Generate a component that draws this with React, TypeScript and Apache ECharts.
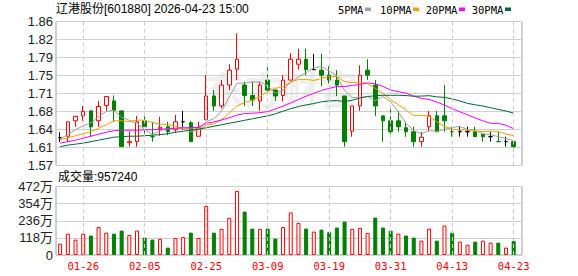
import React, { useEffect, useRef } from 'react';
import * as echarts from 'echarts';

const title = '辽港股份[601880] 2026-04-23 15:00';
const volumeTitle = '成交量:957240';
const maNames = ['5PMA', '10PMA', '20PMA', '30PMA'];
const maColors = ['#a0a0a0', '#f2a000', '#ff00ff', '#006a35'];

const dates = [
  '01-21', '01-22', '01-23', '01-26', '01-27', '01-28', '01-29', '01-30', '02-02', '02-03',
  '02-04', '02-05', '02-06', '02-09', '02-10', '02-11', '02-12', '02-13', '02-24', '02-25',
  '02-26', '02-27', '03-02', '03-03', '03-04', '03-05', '03-06', '03-09', '03-10', '03-11',
  '03-12', '03-13', '03-16', '03-17', '03-18', '03-19', '03-20', '03-23', '03-24', '03-25',
  '03-26', '03-27', '03-30', '03-31', '04-01', '04-02', '04-03', '04-07', '04-08', '04-09',
  '04-10', '04-13', '04-14', '04-15', '04-16', '04-17', '04-20', '04-21', '04-22', '04-23',
];
const labelDates = ['01-26', '02-05', '02-25', '03-09', '03-19', '03-31', '04-13', '04-23'];

const opens = [
  1.626, 1.629, 1.660, 1.670, 1.680, 1.660, 1.691, 1.700, 1.680, 1.616,
  1.618, 1.660, 1.628, 1.644, 1.648, 1.642, 1.658, 1.656, 1.629, 1.662,
  1.710, 1.690, 1.732, 1.764, 1.732, 1.711, 1.700, 1.742, 1.722, 1.711,
  1.742, 1.774, 1.784, 1.763, 1.762, 1.752, 1.742, 1.710, 1.639, 1.690,
  1.762, 1.732, 1.670, 1.660, 1.660, 1.646, 1.638, 1.618, 1.648, 1.670,
  1.670, 1.638, 1.638, 1.638, 1.638, 1.633, 1.628, 1.618, 1.618, 1.618,
];
const closes = [
  1.626, 1.658, 1.669, 1.679, 1.648, 1.689, 1.709, 1.681, 1.608, 1.618,
  1.658, 1.648, 1.628, 1.647, 1.638, 1.658, 1.658, 1.618, 1.646, 1.710,
  1.690, 1.732, 1.762, 1.784, 1.711, 1.702, 1.732, 1.722, 1.710, 1.742,
  1.784, 1.784, 1.763, 1.763, 1.752, 1.742, 1.732, 1.618, 1.690, 1.752,
  1.752, 1.690, 1.660, 1.638, 1.648, 1.638, 1.618, 1.627, 1.670, 1.638,
  1.660, 1.638, 1.638, 1.638, 1.628, 1.628, 1.628, 1.618, 1.618, 1.608,
];
const highs = [
  1.637, 1.658, 1.670, 1.690, 1.681, 1.700, 1.710, 1.711, 1.680, 1.639,
  1.670, 1.670, 1.658, 1.668, 1.658, 1.672, 1.680, 1.660, 1.658, 1.752,
  1.722, 1.742, 1.774, 1.836, 1.739, 1.739, 1.739, 1.774, 1.722, 1.752,
  1.796, 1.805, 1.805, 1.795, 1.795, 1.770, 1.762, 1.710, 1.690, 1.772,
  1.784, 1.742, 1.670, 1.690, 1.680, 1.658, 1.648, 1.638, 1.680, 1.680,
  1.732, 1.648, 1.648, 1.648, 1.648, 1.633, 1.638, 1.638, 1.628, 1.618,
];
const lows = [
  1.617, 1.618, 1.648, 1.660, 1.628, 1.648, 1.680, 1.658, 1.608, 1.608,
  1.608, 1.629, 1.618, 1.630, 1.631, 1.636, 1.642, 1.618, 1.629, 1.662,
  1.680, 1.685, 1.722, 1.742, 1.690, 1.690, 1.680, 1.719, 1.700, 1.699,
  1.742, 1.763, 1.752, 1.763, 1.730, 1.735, 1.710, 1.608, 1.628, 1.680,
  1.742, 1.670, 1.618, 1.628, 1.638, 1.628, 1.608, 1.608, 1.639, 1.638,
  1.638, 1.628, 1.628, 1.628, 1.628, 1.618, 1.618, 1.618, 1.608, 1.598,
];
const volumes = [
  780000, 1470000, 1060000, 1470000, 1340000, 1930000, 1540000, 1470000, 1680000, 1380000,
  1680000, 1200000, 1060000, 1110000, 510000, 1170000, 1240000, 1540000, 1170000, 3380000,
  1540000, 1800000, 2560000, 4420000, 2990000, 1820000, 1800000, 1820000, 1130000, 1930000,
  2930000, 2210000, 1820000, 1610000, 1750000, 1570000, 1890000, 2300000, 1800000, 1870000,
  1520000, 2580000, 1890000, 1680000, 1470000, 1340000, 1200000, 990000, 1820000, 990000,
  2030000, 1540000, 920000, 710000, 920000, 990000, 850000, 850000, 510000, 957240,
];

const ma5Lead = [1.623, 1.633, 1.642, 1.650];
const ma10Lead = [1.622, 1.626, 1.630, 1.634, 1.638, 1.645, 1.652, 1.660, 1.660];
const ma20Lead = [
  1.615, 1.618, 1.621, 1.625, 1.629, 1.633, 1.637, 1.640, 1.641, 1.641,
  1.641, 1.642, 1.642, 1.643, 1.644, 1.645, 1.646, 1.646, 1.647,
];
const ma30Lead = [
  1.608, 1.611, 1.613, 1.615, 1.618, 1.621, 1.624, 1.627, 1.628, 1.629,
  1.629, 1.630, 1.631, 1.632, 1.634, 1.637, 1.639, 1.641, 1.643, 1.646,
  1.649, 1.652, 1.655, 1.658, 1.661, 1.664, 1.667, 1.670, 1.674,
];

const priceMin = 1.57;
const priceMax = 1.86;
const priceTicks = [1.57, 1.60625, 1.6425, 1.67875, 1.715, 1.75125, 1.7875, 1.82375, 1.86];
const priceTickLabels = ['1.57', '1.61', '1.64', '1.68', '1.71', '1.75', '1.79', '1.82', '1.86'];
const volumeTicks = [0, 1180000, 2360000, 3540000, 4720000];
const volumeTickLabels = ['0', '118万', '236万', '354万', '472万'];

const upColor = '#ff0000';
const downColor = '#008000';
const flatColor = '#000000';

function movingAverage(n: number, lead: number[]) {
  return closes.map((_, i) => {
    if (i < n - 1) return lead[i];
    let s = 0;
    for (let k = i - n + 1; k <= i; k++) s += closes[k];
    return +(s / n).toFixed(4);
  });
}

function nearestLabel(v: number, ticks: number[], labels: string[]) {
  let best = 0;
  for (let i = 1; i < ticks.length; i++) {
    if (Math.abs(ticks[i] - v) < Math.abs(ticks[best] - v)) best = i;
  }
  return labels[best];
}

export default function App() {
  const ref = useRef<HTMLDivElement>(null);

  useEffect(() => {
    if (!ref.current) return;
    const chart = echarts.init(ref.current, undefined, { renderer: 'svg' });

    const candleData = dates.map((_, i) => {
      const o = opens[i];
      const c = closes[i];
      const item: any = { value: [o, c, lows[i], highs[i]] };
      if (o === c) {
        const prev = i > 0 ? closes[i - 1] : c;
        const col = c === prev ? flatColor : c < prev ? downColor : upColor;
        item.itemStyle = { color: col, color0: col, borderColor: col, borderColor0: col, borderColorDoji: col };
      }
      return item;
    });

    const volumeData = volumes.map((v, i) => {
      const up = i === 0 || closes[i] >= closes[i - 1];
      return {
        value: v,
        itemStyle: up
          ? { color: '#ffffff', borderColor: upColor, borderWidth: 1 }
          : { color: downColor, borderColor: downColor, borderWidth: 1 },
      };
    });

    const mas = [
      movingAverage(5, ma5Lead),
      movingAverage(10, ma10Lead),
      movingAverage(20, ma20Lead),
      movingAverage(30, ma30Lead),
    ];

    const vMarkLine = {
      silent: true,
      symbol: ['none', 'none'],
      label: { show: false },
      lineStyle: { color: '#cccccc', type: [4, 3], width: 1 },
      emphasis: { disabled: true },
      data: labelDates.map((d) => ({ xAxis: d })),
    };

    const font = '"Liberation Sans", "Noto Sans CJK SC", sans-serif';
    const monoFont = '"DejaVu Sans Mono", monospace';

    const legendX = [338, 380, 425.7, 471.7];
    const legendRectX = [365, 413, 459, 505];

    const graphics: any[] = [
      {
        type: 'text',
        left: 206,
        top: 68,
        z: -10,
        silent: true,
        style: { text: '东方财富', font: 'bold 38px "Noto Sans CJK SC"', fill: '#efefef' },
      },
      {
        type: 'text',
        x: 56,
        y: 9,
        style: { text: title, font: '12px ' + font, fill: '#000', verticalAlign: 'middle', align: 'left' },
      },
      {
        type: 'text',
        x: 58,
        y: 177,
        style: { text: volumeTitle, font: '12px ' + font, fill: '#000', verticalAlign: 'middle', align: 'left' },
      },
    ];
    maNames.forEach((name, i) => {
      graphics.push({
        type: 'text',
        x: legendX[i],
        y: 9.5,
        style: { text: name, font: '10.5px ' + monoFont, fill: '#000', verticalAlign: 'middle', align: 'left' },
      });
      graphics.push({
        type: 'rect',
        shape: { x: legendRectX[i], y: 7.5, width: 6, height: 3.5 },
        style: { fill: maColors[i] },
      });
    });

    const option: any = {
      animation: false,
      backgroundColor: '#ffffff',
      textStyle: { fontFamily: font },
      graphic: graphics,
      grid: [
        { left: 56, top: 21.5, width: 466, height: 144, show: true, borderColor: '#a0a0a0', borderWidth: 1, backgroundColor: 'transparent', containLabel: false },
        { left: 56.3, top: 21.5, width: 461.2, height: 144, containLabel: false },
        { left: 56, top: 186.5, width: 466, height: 68.5, show: true, borderColor: '#a0a0a0', borderWidth: 1, backgroundColor: 'transparent', containLabel: false },
        { left: 56.3, top: 186.5, width: 461.2, height: 68.5, containLabel: false },
      ],
      xAxis: [
        { gridIndex: 0, type: 'value', show: false },
        { gridIndex: 1, type: 'category', data: dates, boundaryGap: true, show: false },
        { gridIndex: 2, type: 'value', show: false },
        {
          gridIndex: 3,
          type: 'category',
          data: dates,
          boundaryGap: true,
          axisLine: { show: false },
          axisTick: { show: false },
          splitLine: { show: false },
          axisLabel: {
            interval: (_: number, value: string) => labelDates.includes(value),
            color: upColor,
            fontSize: 10.5,
            fontFamily: monoFont,
            margin: 5,
            showMaxLabel: true,
            hideOverlap: false,
          },
        },
      ],
      yAxis: [
        {
          gridIndex: 0,
          type: 'value',
          min: priceMin,
          max: priceMax,
          axisLine: { show: false },
          axisTick: { show: false, customValues: priceTicks },
          axisLabel: {
            customValues: priceTicks,
            formatter: (v: number) => nearestLabel(v, priceTicks, priceTickLabels),
            color: '#222',
            fontSize: 13,
            margin: 3,
          },
          splitLine: { show: true, lineStyle: { color: '#d0d0d0', width: 1 } },
        },
        { gridIndex: 1, type: 'value', min: priceMin, max: priceMax, show: false, splitLine: { show: false } },
        {
          gridIndex: 2,
          type: 'value',
          min: 0,
          max: 4720000,
          interval: 1180000,
          axisLine: { show: false },
          axisTick: { show: false },
          axisLabel: {
            formatter: (v: number) => nearestLabel(v, volumeTicks, volumeTickLabels),
            color: '#222',
            fontSize: 13,
            margin: 3,
          },
          splitLine: { show: true, lineStyle: { color: '#d0d0d0', width: 1 } },
        },
        { gridIndex: 3, type: 'value', min: 0, max: 4720000, show: false, splitLine: { show: false } },
      ],
      series: [
        {
          type: 'candlestick',
          xAxisIndex: 1,
          yAxisIndex: 1,
          data: candleData,
          barWidth: 4,
          itemStyle: {
            color: '#ffffff',
            color0: downColor,
            borderColor: upColor,
            borderColor0: downColor,
            borderWidth: 1,
          },
          markLine: vMarkLine,
          z: 2,
        },
        ...mas.map((d, i) => ({
          type: 'line',
          name: maNames[i],
          xAxisIndex: 1,
          yAxisIndex: 1,
          data: d,
          showSymbol: false,
          symbol: 'none',
          lineStyle: { color: maColors[i], width: 1 },
          itemStyle: { color: maColors[i] },
          z: 3,
          silent: true,
        })),
        {
          type: 'bar',
          xAxisIndex: 3,
          yAxisIndex: 3,
          data: volumeData,
          barWidth: 4,
          markLine: vMarkLine,
        },
      ],
    };

    chart.setOption(option);
    return () => chart.dispose();
  }, []);

  return <div ref={ref} style={{ width: 578, height: 276, position: 'absolute', left: 0, top: 0 }} />;
}
